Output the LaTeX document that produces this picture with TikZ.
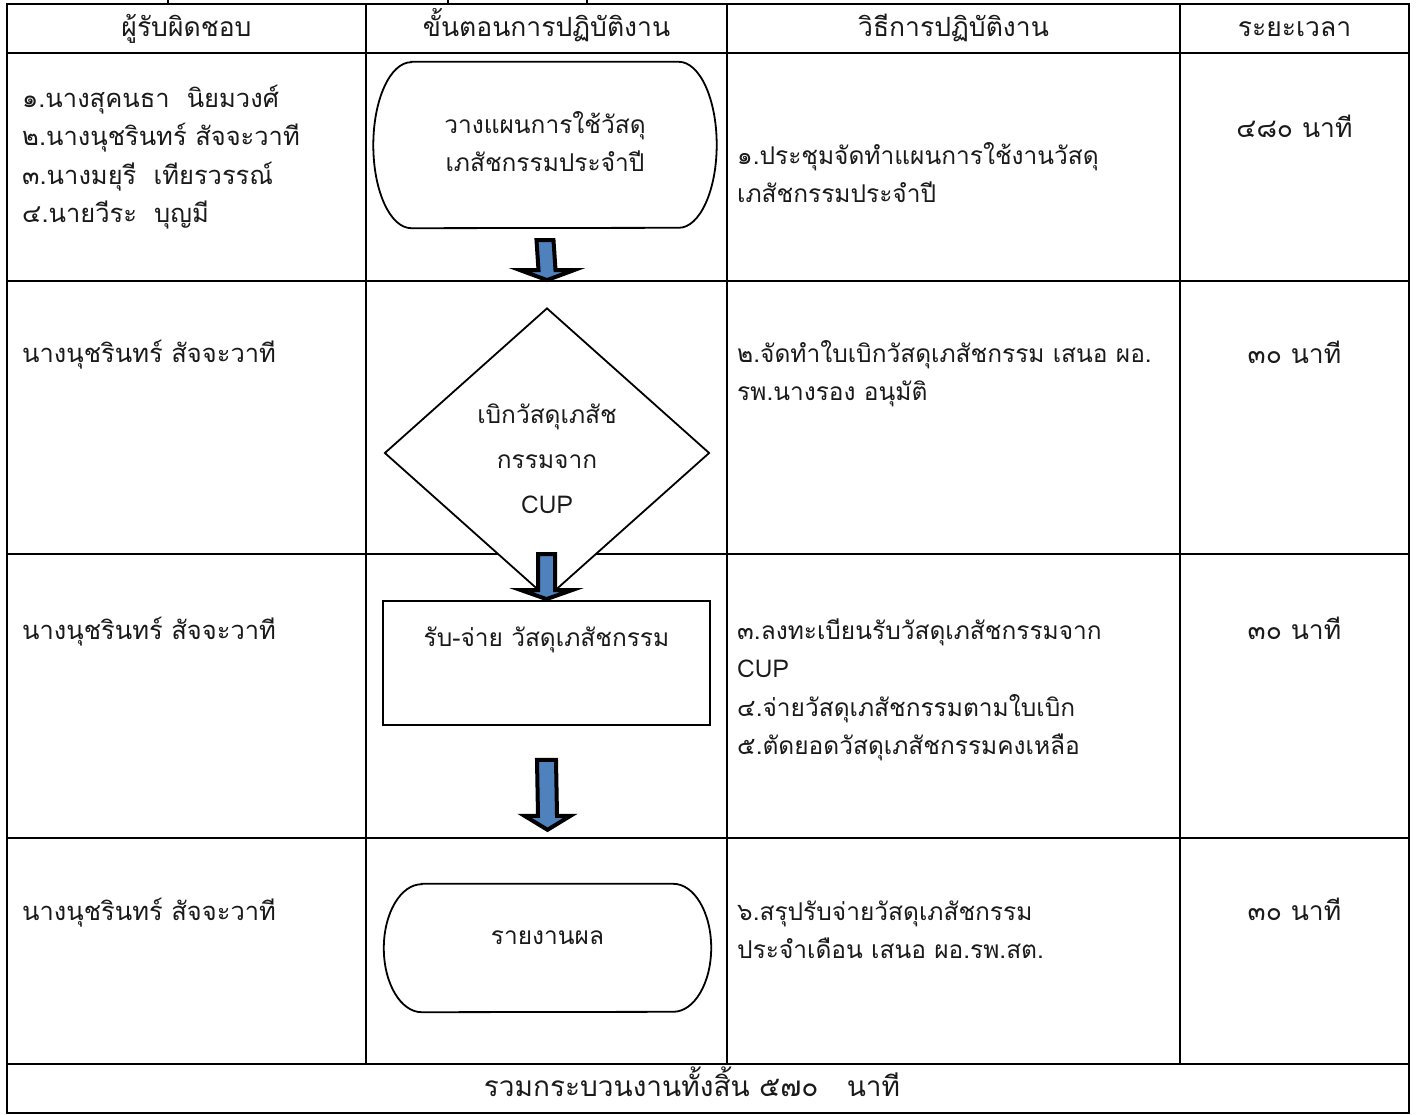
\documentclass[tikz,border=0pt]{standalone}
\usepackage{fontspec}
\newfontfamily\thaifont[Script=Thai]{Loma}
\usetikzlibrary{shapes.geometric,calc}
\definecolor{arrblue}{HTML}{4F81BD}
\definecolor{txtgray}{HTML}{1A1A1A}
\newcommand\blockarr[5]{%
  \draw[arrowstyle] ($(#1)+(-#3,0)$) -- ($(#2)+(-#3,-#5)$) -- ($(#2)+(-#4,-#5)$) -- (#2) -- ($(#2)+(#4,-#5)$) -- ($(#2)+(#3,-#5)$) -- ($(#1)+(#3,0)$) -- cycle;}
\begin{document}
\begin{tikzpicture}[x=1pt,y=-1pt,
  txt/.style={font=\thaifont\fontsize{24.5}{38.5}\selectfont, inner sep=0pt, text=txtgray},
  txtl/.style={font=\thaifont\fontsize{25.5}{38.5}\selectfont, inner sep=0pt, text=txtgray},
  gridline/.style={line width=2pt, line cap=rect},
  shapeline/.style={line width=1.8pt},
  arrowstyle/.style={fill=arrblue, draw=black, line width=4pt, line join=miter},
  cell/.style={txt, anchor=north west, align=left},
  head/.style={txt, anchor=base},
  headbig/.style={txt, font=\thaifont\fontsize{26.5}{38.5}\selectfont, anchor=base},
]
\useasboundingbox (0,0) rectangle (1416,1115);
% table
\draw[gridline] (7,4) rectangle (1409,1113);
\foreach \y in {53,281,554,838,1064} \draw[gridline] (7,\y) -- (1409,\y);
\foreach \x in {366,727,1180} \draw[gridline] (\x,4) -- (\x,1064);
\foreach \x in {168,448,587} \draw[line width=1.5pt] (\x,0) -- (\x,4);
% headers
\node[headbig] (h1) at (186.5,37) {ผู้รับผิดชอบ};
\node[headbig] (h2) at (546.5,37) {ขั้นตอนการปฏิบัติงาน};
\node[headbig] (h3) at (953.5,37) {วิธีการปฏิบัติงาน};
\node[headbig] (h4) at (1294.5,37) {ระยะเวลา};
% responsible
\node[txtl, anchor=north west, align=left] (p1) at (22,80) {\strut ๑.นางสุคนธา\ \ นิยมวงศ์\\\strut ๒.นางนุชรินทร์ สัจจะวาที\\\strut ๓.นางมยุรี\ \ เทียรวรรณ์\\\strut ๔.นายวีระ\ \ บุญมี};
\node[txtl, anchor=base west] (p2) at (22,362) {นางนุชรินทร์ สัจจะวาที};
\node[txtl, anchor=base west] (p3) at (22,639) {นางนุชรินทร์ สัจจะวาที};
\node[txtl, anchor=base west] (p4) at (22,920) {นางนุชรินทร์ สัจจะวาที};
% methods
\node[cell] (m1) at (737,137) {\strut ๑.ประชุมจัดทำแผนการใช้งานวัสดุ\\\strut เภสัชกรรมประจำปี};
\node[cell] (m2) at (737,335) {\strut ๒.จัดทำใบเบิกวัสดุเภสัชกรรม เสนอ ผอ.\\\strut รพ.นางรอง อนุมัติ};
\node[cell] (m3) at (737,612) {\strut ๓.ลงทะเบียนรับวัสดุเภสัชกรรมจาก\\\strut CUP\\\strut ๔.จ่ายวัสดุเภสัชกรรมตามใบเบิก\\\strut ๕.ตัดยอดวัสดุเภสัชกรรมคงเหลือ};
\node[cell] (m4) at (737,893) {\strut ๖.สรุปรับจ่ายวัสดุเภสัชกรรม\\\strut ประจำเดือน เสนอ ผอ.รพ.สต.};
% durations
\node[headbig] (d1) at (1294.5,138) {๔๘๐ นาที};
\node[headbig] (d2) at (1294.5,363) {๓๐ นาที};
\node[headbig] (d3) at (1294.5,639) {๓๐ นาที};
\node[headbig] (d4) at (1294.5,920) {๓๐ นาที};
% total
\node[headbig, font=\thaifont\fontsize{28}{38.5}\selectfont] (tot) at (692,1096) {รวมกระบวนงานทั้งสิ้น ๕๗๐\ \ \ นาที};
% flow shapes
\node[txt, minimum width=343pt, minimum height=166pt, align=center] (t1) at (545,145) {\strut วางแผนการใช้วัสดุ\\\strut เภสัชกรรมประจำปี};
\draw[shapeline] ([xshift=38pt]t1.north west) -- ([xshift=-38pt]t1.north east) arc[start angle=90,end angle=-90,x radius=38pt,y radius=83pt] -- ([xshift=38pt]t1.south west) arc[start angle=270,end angle=90,x radius=38pt,y radius=83pt] -- cycle;
\node[txt, diamond, draw, fill=white, shapeline, aspect=1.12, minimum width=325pt, minimum height=290pt, align=center, font=\thaifont\fontsize{24.5}{45}\selectfont] (d) at (547,453) {\strut เบิกวัสดุเภสัช\\\strut กรรมจาก\\CUP};
\node[txt, draw, fill=white, shapeline, minimum width=327pt, minimum height=124pt, text height=27pt, text depth=61pt] (r) at (546.5,663) {รับ-จ่าย วัสดุเภสัชกรรม};
\node[txt, minimum width=327pt, minimum height=128pt, text height=27pt, text depth=35pt] (t2) at (547.5,948) {รายงานผล};
\draw[shapeline] ([xshift=38pt]t2.north west) -- ([xshift=-38pt]t2.north east) arc[start angle=90,end angle=-90,x radius=38pt,y radius=64pt] -- ([xshift=38pt]t2.south west) arc[start angle=270,end angle=90,x radius=38pt,y radius=64pt] -- cycle;
% block arrows
\coordinate (a1s) at ([yshift=-12pt]t1.south);
\coordinate (a1e) at ([yshift=27pt]d.north);
\blockarr{a1s}{a1e}{8.5}{27}{10}
\coordinate (a2s) at ([yshift=46pt]r.north);
\coordinate (a2e) at ([yshift=1pt]r.north);
\blockarr{a2s}{a2e}{8.5}{25.5}{9}
\coordinate (a3s) at ([yshift=-34pt]r.south);
\coordinate (a3e) at ([yshift=54pt]t2.north);
\blockarr{a3s}{a3e}{9.5}{23}{14}
\end{tikzpicture}
\end{document}
